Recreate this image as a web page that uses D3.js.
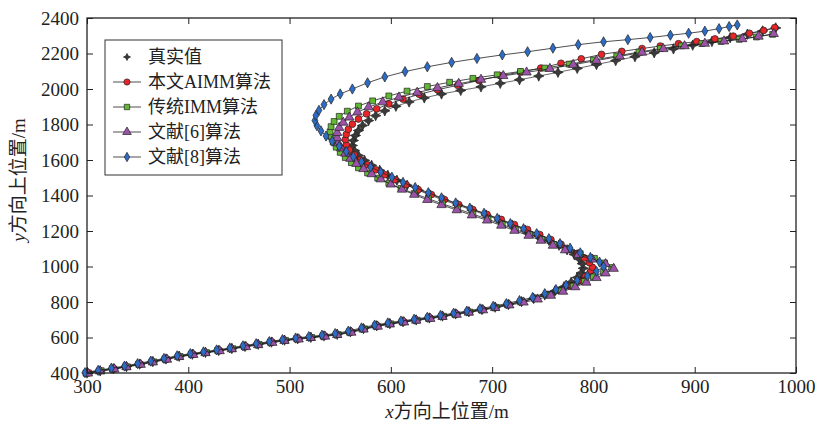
<!DOCTYPE html>
<html>
<head>
<meta charset="utf-8">
<script src="https://cdn.jsdelivr.net/npm/d3@7"></script>
<style>
  body { margin: 0; background: #fff; }
  svg text { font-family: "Liberation Serif", "Noto Sans CJK SC", serif; fill: #222; }
</style>
</head>
<body>
<svg id="chart" width="821" height="429"></svg>
<script>
const xTicks = [300, 400, 500, 600, 700, 800, 900, 1000];
const yTicks = [400, 600, 800, 1000, 1200, 1400, 1600, 1800, 2000, 2200, 2400];
const seriesNames = ['真实值', '本文AIMM算法', '传统IMM算法', '文献[6]算法', '文献[8]算法'];

const truthX = [300,313,326,339,352,365,378,391,404,417,430,443,456,469,482,495,508,521,534,547,560,
  573,586,599,612,625,638,651,664,677,690,703,716,729,741,
  752,762,771,778,784,788,790,
  789,786,781,774,766,756,745,733,720,707,694,680,666,652,639,627,616,606,597,589,581,574,568,564,562,
  563,565,568,572,578,585,594,605,618,633,650,669,689,708,
  727,746,765,784,803,822,841,860,879,898,917,935,952,967,980];
const truthY = [400,412,424,436,450,464,479,494,506,516,527,538,550,562,574,585,593,601,609,618,632,
  650,666,678,689,699,710,721,733,745,758,771,786,802,820,
  840,862,886,912,938,964,990,
  1016,1042,1068,1094,1120,1148,1176,1204,1233,1262,1290,1318,1346,1374,1402,1430,1458,1486,1514,1542,1570,1598,1626,1654,1682,
  1710,1738,1766,1794,1822,1850,1877,1903,1927,1950,1972,1992,2012,2032,
  2052,2073,2094,2116,2138,2160,2182,2204,2226,2247,2268,2289,2309,2327,2344];

const aimmX = [302,312,327,338,353,364,379,390,405,416,431,442,457,468,483,494,509,520,535,546,561,
  572,587,598,613,624,639,650,665,676,691,702,717,730,743,
  755,766,776,785,792,797,799,
  796,791,784,776,768,758,747,735,722,709,695,681,667,653,640,627,615,604,594,585,577,570,564,559,556,
  555,556,558,562,568,576,586,598,612,628,646,666,687,708,
  728,748,768,788,808,828,848,866,884,902,920,938,954,968,979];
const aimmY = [401,414,423,438,449,466,478,496,505,518,526,540,549,564,573,587,592,603,608,620,631,
  652,665,680,688,701,709,723,732,747,757,773,785,804,822,
  843,866,891,917,944,970,996,
  1022,1048,1074,1099,1125,1152,1180,1208,1236,1265,1293,1321,1349,1377,1405,1433,1461,1489,1517,1545,1573,1601,1629,1657,1686,
  1715,1744,1773,1802,1831,1860,1888,1916,1943,1970,1996,2021,2048,2075,
  2095,2118,2145,2170,2195,2212,2228,2242,2255,2267,2282,2298,2314,2330,2346];

const immX = [299,314,325,340,351,366,377,392,403,418,429,444,455,470,481,496,507,522,533,548,559,
  574,585,600,611,626,637,652,663,678,689,704,715,728,742,
  755,768,780,791,800,810,818,
  811,801,787,773,761,749,737,723,710,696,681,666,651,637,623,610,598,587,577,568,561,555,550,
  546,543,541,540,541,544,549,557,568,582,598,616,636,658,
  681,705,728,752,776,800,823,845,866,887,907,926,944,961,977];
const immY = [399,413,425,435,451,463,480,493,507,515,528,537,551,561,575,584,594,600,610,617,633,
  649,667,677,690,698,711,720,734,744,759,770,787,801,819,
  841,864,890,916,942,968,994,
  1020,1046,1072,1098,1124,1152,1180,1208,1237,1266,1295,1324,1353,1382,1411,1440,1469,1498,1527,1556,1585,1614,1643,1672,1701,
  1730,1759,1788,1817,1846,1875,1904,1933,1961,1988,2014,2038,2060,2080,
  2099,2118,2140,2163,2186,2208,2228,2243,2256,2268,2280,2293,2308,2324,2344];

const ref6X = [301,313,327,339,353,365,379,391,405,417,431,443,457,469,483,495,509,521,535,547,561,
  573,587,599,613,625,639,651,665,677,691,703,717,731,745,
  758,770,782,793,803,812,820,
  812,799,785,772,760,748,736,722,709,695,680,665,650,636,623,611,600,590,581,573,566,560,555,
  551,548,547,547,549,553,559,567,578,592,608,626,646,667,
  689,711,734,757,780,803,826,848,869,890,910,929,947,963,978];
const ref6Y = [398,410,422,434,447,461,476,491,503,513,524,535,547,558,571,582,590,598,606,615,628,
  646,662,675,686,696,706,717,729,741,754,767,782,798,815,
  836,859,884,910,936,962,988,
  1014,1040,1066,1092,1118,1146,1174,1202,1231,1260,1289,1318,1347,1376,1405,1434,1463,1492,1521,1550,1579,1608,1637,1666,1695,
  1724,1753,1782,1811,1840,1869,1898,1926,1953,1980,2006,2030,2053,2074,
  2094,2114,2137,2160,2184,2206,2226,2242,2256,2269,2282,2296,2311,2327,2346];

const ref8X = [298,311,324,337,350,363,376,389,402,415,428,441,454,467,480,493,506,519,532,545,558,
  571,584,597,610,623,636,649,662,675,688,701,714,727,740,
  752,763,773,
  784,794,803,810,806,797,787,777,767,756,744,731,
  718,705,692,678,664,650,637,624,612,601,590,580,571,563,556,549,542,536,531,527,525,
  526,529,534,541,550,562,577,594,614,636,660,685,710,735,760,785,810,834,856,876,894,910,924,934,942];
const ref8Y = [402,415,427,439,453,467,482,497,509,519,530,541,553,565,577,588,597,605,613,622,636,
  654,670,682,693,703,714,725,737,749,762,776,791,808,826,
  847,870,895,
  921,947,973,999,1025,1051,1077,1103,1129,1157,1185,1213,
  1242,1271,1300,1329,1358,1387,1416,1445,1474,1503,1532,1561,1590,1619,1648,1677,1706,1735,1764,1793,1822,
  1851,1880,1912,1943,1972,2000,2035,2068,2098,2125,2150,2172,2192,2210,2230,2250,2266,2278,2290,2303,2314,2326,2340,2352,2361];

const svg = d3.select('#chart');
const plotLeft = 87, plotRight = 796, plotTop = 18, plotBottom = 373;

const x = d3.scaleLinear().domain([300, 1000]).range([plotLeft, plotRight]);
const y = d3.scaleLinear().domain([400, 2400]).range([plotBottom, plotTop]);

// 4-point star for the true track
const star4 = {
  draw(ctx, size) {
    const r = Math.sqrt(size) * 0.75, k = r * 0.32;
    ctx.moveTo(0, -r); ctx.lineTo(k, -k); ctx.lineTo(r, 0); ctx.lineTo(k, k);
    ctx.lineTo(0, r); ctx.lineTo(-k, k); ctx.lineTo(-r, 0); ctx.lineTo(-k, -k);
    ctx.closePath();
  }
};

const series = [
  { name: seriesNames[0], xs: truthX, ys: truthY, type: star4, size: 48, fill: '#3a3a3a', stroke: '#222', line: '#444', legendLine: false },
  { name: seriesNames[1], xs: aimmX, ys: aimmY, type: d3.symbolCircle, size: 36, fill: '#e8262a', stroke: '#222', line: '#222', legendLine: true },
  { name: seriesNames[2], xs: immX, ys: immY, type: d3.symbolSquare, size: 34, fill: '#62b834', stroke: '#222', line: '#222', legendLine: true },
  { name: seriesNames[3], xs: ref6X, ys: ref6Y, type: d3.symbolTriangle, size: 38, fill: '#9b52a8', stroke: '#222', line: '#222', legendLine: true },
  { name: seriesNames[4], xs: ref8X, ys: ref8Y, type: d3.symbolDiamond, size: 30, fill: '#2d6cc4', stroke: '#222', line: '#222', legendLine: true }
];

const plot = svg.append('g');
const line = d3.line().x(d => x(d[0])).y(d => y(d[1]));

series.forEach(s => {
  const pts = d3.zip(s.xs, s.ys);
  plot.append('path')
    .attr('d', line(pts))
    .attr('fill', 'none')
    .attr('stroke', s.line)
    .attr('stroke-width', 0.8);
  plot.selectAll(null)
    .data(pts)
    .enter()
    .append('path')
    .attr('transform', d => `translate(${x(d[0])},${y(d[1])})`)
    .attr('d', d3.symbol().type(s.type).size(s.size))
    .attr('fill', s.fill)
    .attr('stroke', s.stroke)
    .attr('stroke-width', 0.7);
});

// axes, ticks inside on all four sides
const axisStyle = g => {
  g.select('.domain').remove();
  g.selectAll('line').attr('stroke', '#222').attr('stroke-width', 1);
  g.selectAll('text').attr('font-size', 19).attr('fill', '#222')
    .attr('font-family', '"Liberation Serif", serif');
};

svg.append('g')
  .attr('transform', `translate(0,${plotBottom})`)
  .call(d3.axisBottom(x).tickValues(xTicks).tickSize(-6).tickPadding(7).tickFormat(d3.format('d')))
  .call(axisStyle);

svg.append('g')
  .attr('transform', `translate(0,${plotTop})`)
  .call(d3.axisTop(x).tickValues(xTicks).tickSize(-6).tickFormat(''))
  .call(axisStyle);

svg.append('g')
  .attr('transform', `translate(${plotLeft},0)`)
  .call(d3.axisLeft(y).tickValues(yTicks).tickSize(-6).tickPadding(8).tickFormat(d3.format('d')))
  .call(axisStyle);

svg.append('g')
  .attr('transform', `translate(${plotRight},0)`)
  .call(d3.axisRight(y).tickValues(yTicks).tickSize(-6).tickFormat(''))
  .call(axisStyle);

svg.append('rect')
  .attr('x', plotLeft).attr('y', plotTop)
  .attr('width', plotRight - plotLeft).attr('height', plotBottom - plotTop)
  .attr('fill', 'none').attr('stroke', '#222').attr('stroke-width', 1.3);

// axis titles
const xTitle = svg.append('text')
  .attr('x', 447).attr('y', 418)
  .attr('text-anchor', 'middle')
  .attr('font-size', 19);
xTitle.append('tspan').attr('font-style', 'italic').text('x');
xTitle.append('tspan').text('方向上位置/m');

const yTitle = svg.append('text')
  .attr('transform', 'translate(25,180) rotate(-90)')
  .attr('text-anchor', 'middle')
  .attr('font-size', 19);
yTitle.append('tspan').attr('font-style', 'italic').text('y');
yTitle.append('tspan').text('方向上位置/m');

// legend
const legend = svg.append('g');
legend.append('rect')
  .attr('x', 105).attr('y', 40)
  .attr('width', 177).attr('height', 135)
  .attr('fill', '#fff').attr('stroke', '#333').attr('stroke-width', 1);

const rowY = d3.scalePoint().domain(seriesNames).range([57, 157]);

series.forEach(s => {
  const g = legend.append('g').attr('transform', `translate(0,${rowY(s.name)})`);
  if (s.legendLine) {
    g.append('line')
      .attr('x1', 113).attr('x2', 141)
      .attr('stroke', '#222').attr('stroke-width', 0.8);
  }
  g.append('path')
    .attr('transform', 'translate(127,0)')
    .attr('d', d3.symbol().type(s.type).size(s.type === star4 ? 22 : s.size * 0.85))
    .attr('fill', s.fill)
    .attr('stroke', s.stroke)
    .attr('stroke-width', 0.7);
  g.append('text')
    .attr('x', 148).attr('y', 6)
    .attr('font-size', 18)
    .text(s.name);
});
</script>
</body>
</html>
